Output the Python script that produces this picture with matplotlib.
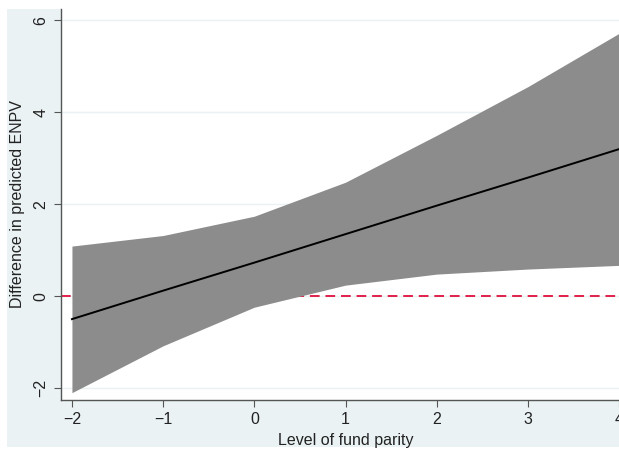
import numpy as np
import matplotlib
matplotlib.use('Agg')
import matplotlib.pyplot as plt
from matplotlib.patches import Rectangle

plt.rcParams['font.family'] = ['Liberation Sans', 'DejaVu Sans']

# values
parity = [-2, -1, 0, 1, 2, 3, 4]
effect = [-0.50, 0.12, 0.73, 1.35, 1.97, 2.58, 3.20]
ci_upper = [1.09, 1.32, 1.74, 2.48, 3.50, 4.56, 5.72]
ci_lower = [-2.10, -1.08, -0.24, 0.24, 0.48, 0.59, 0.67]
xticks = [-2, -1, 0, 1, 2, 3, 4]
yticks = [-2, 0, 2, 4, 6]

W, H = 619, 455
fig = plt.figure(figsize=(W / 100, H / 100), dpi=100, facecolor='white')

# stata-like outer background (crop of the original graph)
fig.patches.append(Rectangle((7 / W, 1 - 447 / H), 1, (447 - 9) / H,
                             transform=fig.transFigure, facecolor='#EAF2F3',
                             edgecolor='none', zorder=-5))

left, right, top, bottom = 61, 630, 9, 400
ax = fig.add_axes([left / W, 1 - bottom / H, (right - left) / W, (bottom - top) / H])
ax.set_facecolor('white')

ax.axhline(0, color='#E0204A', linestyle=(0, (5, 3)), linewidth=1.4, zorder=1)
ax.fill_between(parity, ci_lower, ci_upper, color='#8C8C8C', linewidth=0, zorder=2)
ax.plot(parity, effect, color='black', linewidth=1.4, zorder=3)

ax.set_xlim(-2.12, 4.12)
ax.set_ylim(-2.26, 6.25)
ax.set_xticks(xticks)
ax.set_yticks(yticks)
ax.set_xticklabels([str(v).replace('-', '\u2212') for v in xticks], fontsize=11.5)
ax.set_yticklabels([str(v).replace('-', '\u2212') for v in yticks], fontsize=11.5,
                   rotation=90, va='center')
ax.grid(axis='y', color='#EAF2F3', linewidth=1.0, zorder=0)
ax.set_axisbelow(True)

for s in ['top', 'right']:
    ax.spines[s].set_visible(False)
for s in ['left', 'bottom']:
    ax.spines[s].set_color('#555555')
    ax.spines[s].set_linewidth(1.0)
ax.tick_params(axis='both', length=5, color='#555555', labelcolor='#222222', pad=4)

ax.set_xlabel('Level of fund parity', fontsize=11.5, color='#222222', labelpad=4)
ax.set_ylabel('Difference in predicted ENPV', fontsize=11.5, color='#222222', labelpad=6)

fig.savefig('out.png', dpi=100, facecolor=fig.get_facecolor())
